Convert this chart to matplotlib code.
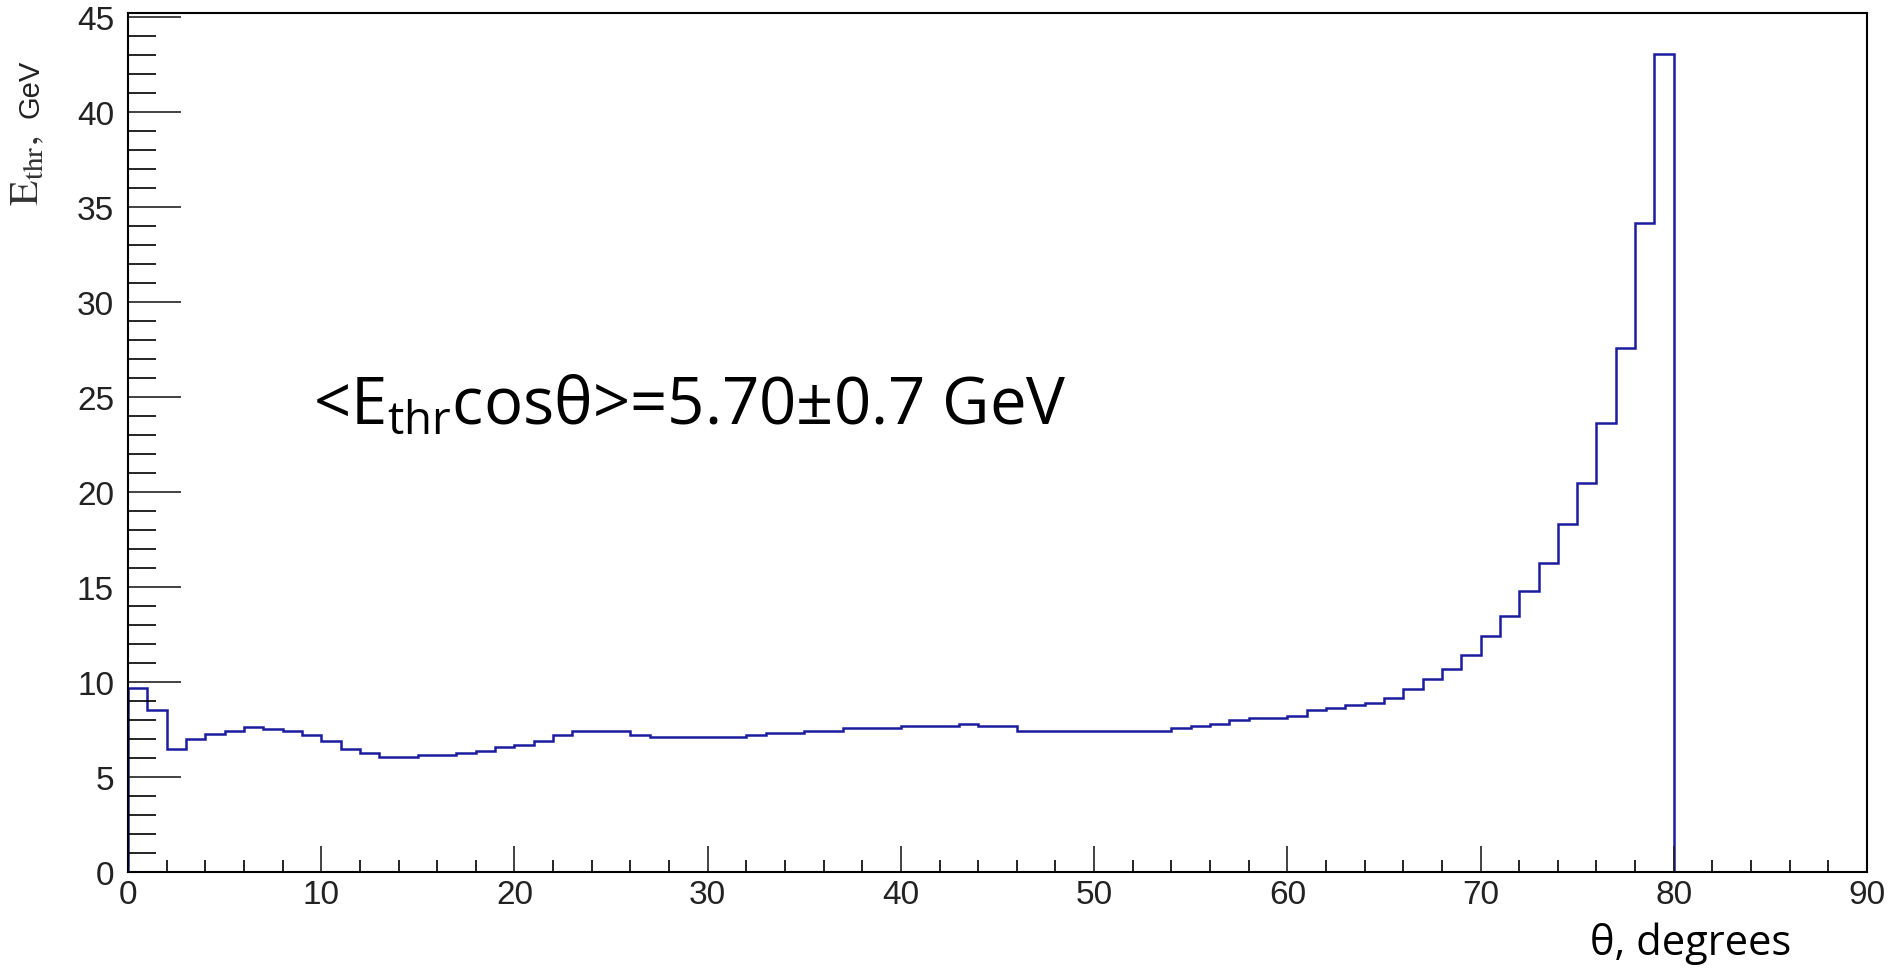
import numpy as np
import matplotlib
matplotlib.use("Agg")
import matplotlib.pyplot as plt
from matplotlib.ticker import MultipleLocator

plt.rcParams['font.family'] = ['Liberation Sans', 'DejaVu Sans']
plt.rcParams['mathtext.fontset'] = 'custom'
plt.rcParams['mathtext.rm'] = 'Open Sans'

# bin edges (degrees) and per-bin threshold energy (GeV)
edges = np.arange(0, 81, 1)
e_thr = [9.70, 8.51, 6.46, 7.02, 7.25, 7.44, 7.65, 7.54, 7.44, 7.23,
         6.89, 6.46, 6.26, 6.04, 6.04, 6.16, 6.16, 6.25, 6.37, 6.60,
         6.70, 6.91, 7.23, 7.44, 7.44, 7.44, 7.23, 7.12, 7.12, 7.12,
         7.12, 7.12, 7.23, 7.33, 7.33, 7.44, 7.44, 7.56, 7.56, 7.56,
         7.67, 7.67, 7.67, 7.77, 7.67, 7.67, 7.44, 7.44, 7.44, 7.44,
         7.44, 7.44, 7.44, 7.44, 7.56, 7.67, 7.77, 8.00, 8.11, 8.11,
         8.21, 8.55, 8.65, 8.77, 8.88, 9.18, 9.62, 10.16, 10.70, 11.44,
         12.42, 13.49, 14.77, 16.28, 18.32, 20.48, 23.62, 27.56, 34.13, 43.04]

fig = plt.figure(figsize=(18.93, 9.70), dpi=100)
ax = fig.add_axes([128 / 1893, 97 / 970, (1867 - 128) / 1893, (873 - 14) / 970])

ax.stairs(e_thr, edges, color='#1c1ca0', lw=1.8)

ax.set_xlim(0, 90)
ax.set_ylim(0, 45.2)
ax.xaxis.set_major_locator(MultipleLocator(10))
ax.xaxis.set_minor_locator(MultipleLocator(2))
ax.yaxis.set_major_locator(MultipleLocator(5))
ax.yaxis.set_minor_locator(MultipleLocator(1))
ax.tick_params(axis='x', which='major', direction='in', length=19, width=1.2,
               labelsize=24, pad=5, colors='#222222')
ax.tick_params(axis='x', which='minor', direction='in', length=9, width=1.2)
ax.tick_params(axis='y', which='major', direction='in', length=38, width=1.2,
               labelsize=24, pad=10, colors='#222222')
ax.tick_params(axis='y', which='minor', direction='in', length=20, width=1.2)
for s in ax.spines.values():
    s.set_linewidth(1.5)

ax.text(9.6, 23.6, r'<E$_{\rm thr}$cosθ>=5.70±0.7 GeV', fontsize=47,
        family=['Open Sans', 'DejaVu Sans'], va='baseline', ha='left')

fig.text(1791 / 1893, 15 / 970, 'θ, degrees', fontsize=30,
         family=['Open Sans', 'DejaVu Sans'], ha='right', va='baseline')

# y axis title: serif E_thr part and sans GeV part
fig.text(31 / 1893, (970 - 60) / 970, 'GeV', fontsize=21,
         rotation=90, ha='center', va='top', color='#222222')
fig.text(27 / 1893, (970 - 206) / 970, r'$\mathrm{E_{thr},}$', fontsize=30,
         rotation=90, ha='center', va='bottom', math_fontfamily='stix',
         color='#333333')

fig.savefig('out.png', dpi=100)
